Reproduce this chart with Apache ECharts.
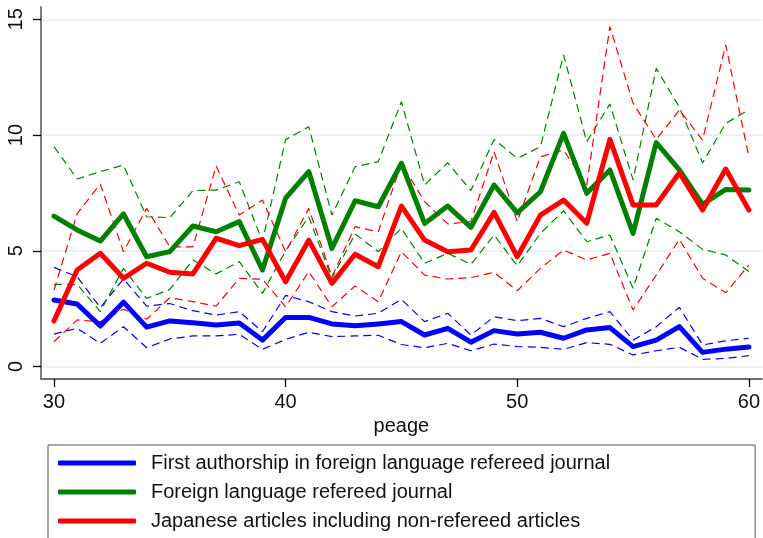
<!DOCTYPE html>
<html>
<head>
<meta charset="utf-8">
<script src="https://cdn.jsdelivr.net/npm/echarts@6/dist/echarts.min.js"></script>
<style>
  html, body { margin: 0; padding: 0; background: #fff; }
  #chart { width: 763px; height: 538px; }
</style>
</head>
<body>
<div id="chart"></div>
<script>
// Age (peage) on the horizontal axis
const ages = [30,31,32,33,34,35,36,37,38,39,40,41,42,43,44,45,46,47,48,49,50,51,52,53,54,55,56,57,58,59,60];

// First authorship in foreign language refereed journal: mean, upper and lower band
const firstMean  = [2.87,2.70,1.75,2.78,1.70,1.97,1.89,1.79,1.88,1.14, 2.12,2.12,1.84,1.76,1.84,1.94,1.36,1.65,1.05,1.55, 1.40,1.48,1.22,1.58,1.68,0.86,1.14,1.72,0.61,0.75,0.84];
const firstUpper = [4.28,3.88,2.55,3.78,2.61,2.72,2.41,2.22,2.37,1.50, 3.07,2.80,2.37,2.18,2.30,2.90,1.94,2.30,1.36,2.15, 1.98,2.08,1.72,2.08,2.37,1.14,1.72,2.56,0.93,1.11,1.22];
const firstLower = [1.40,1.65,1.00,1.72,0.81,1.19,1.32,1.32,1.39,0.74, 1.17,1.48,1.29,1.32,1.35,0.95,0.81,1.00,0.68,0.97, 0.86,0.83,0.74,1.03,0.96,0.50,0.68,0.83,0.31,0.35,0.47];

// Foreign language refereed journal
const foreignMean  = [6.50,5.90,5.42,6.59,4.74,4.96,6.07,5.82,6.26,4.17, 7.27,8.42,5.10,7.16,6.90,8.78,6.18,6.93,6.01,7.84, 6.64,7.55,10.07,7.48,8.49,5.75,9.67,8.49,7.00,7.65,7.62];
const foreignUpper = [9.50,8.10,8.42,8.70,6.47,6.43,7.60,7.62,7.98,5.40, 9.80,10.36,6.54,8.63,8.85,11.44,7.84,8.80,7.60,9.81, 8.99,9.49,13.46,9.71,11.34,8.06,12.88,11.20,8.80,10.50,11.10];
const foreignLower = [3.55,3.55,2.37,4.24,2.94,3.33,4.60,4.00,4.53,3.16, 5.00,6.47,3.80,5.73,4.96,5.97,4.46,4.89,4.41,5.68, 4.35,5.75,6.73,5.39,5.68,3.38,6.40,5.82,5.06,4.82,4.10];

// Japanese articles including non-refereed articles
const japanMean  = [1.97,4.17,4.89,3.81,4.46,4.07,4.00,5.54,5.22,5.49, 3.66,5.46,3.59,4.85,4.31,6.93,5.46,4.96,5.03,6.66, 4.74,6.54,7.19,6.19,9.81,6.98,6.98,8.37,6.76,8.53,6.76];
const japanUpper = [3.30,6.60,7.88,4.96,6.83,5.17,5.17,8.66,6.54,7.19, 4.96,6.83,3.88,6.04,5.82,8.78,7.12,6.16,6.26,9.28, 6.26,9.06,9.35,7.84,14.68,11.37,9.81,11.08,9.78,13.89,9.06];
const japanLower = [1.07,2.01,1.94,2.47,2.04,2.97,2.80,2.61,3.81,3.77, 2.58,4.10,2.58,3.48,2.80,4.96,3.95,3.78,3.84,4.07, 3.27,4.24,5.03,4.60,4.89,2.44,3.95,5.49,3.81,3.19,4.38];

const seriesNames = [
  'First authorship in foreign language refereed journal',
  'Foreign language refereed journal',
  'Japanese articles including non-refereed articles'
];
const xTicks = [30, 40, 50, 60];
const yTicks = [0, 5, 10, 15];

const FONT = '"Liberation Sans", Arial, Helvetica, sans-serif';
const colors = ['#0000ff', '#008000', '#ff0000'];

const pairs = vals => ages.map((a, i) => [a, vals[i]]);

// thin dashed band around each mean
function band(name, vals, color) {
  return {
    name: name, type: 'line', data: pairs(vals), symbol: 'none',
    lineStyle: { color: color, width: 1.2, type: [8, 5] },
    silent: true, z: 2
  };
}
// thick solid mean line
function mean(name, vals, color) {
  return {
    name: name, type: 'line', data: pairs(vals), symbol: 'none',
    lineStyle: { color: color, width: 5, cap: 'round', join: 'round' },
    itemStyle: { color: color },
    z: 3
  };
}

const groups = [
  [firstMean, firstUpper, firstLower],
  [foreignMean, foreignUpper, foreignLower],
  [japanMean, japanUpper, japanLower]
];

const series = [];
groups.forEach((g, k) => {
  series.push(band(seriesNames[k] + ' upper', g[1], colors[k]));
  series.push(band(seriesNames[k] + ' lower', g[2], colors[k]));
});
groups.forEach((g, k) => series.push(mean(seriesNames[k], g[0], colors[k])));

const chart = echarts.init(document.getElementById('chart'), null, { renderer: 'canvas' });
chart.setOption({
  animation: false,
  backgroundColor: '#ffffff',
  color: colors,
  grid: { left: 41, right: 0, top: 7, bottom: 159, containLabel: false },
  xAxis: {
    type: 'value',
    min: 29.44, max: 60.56,
    name: 'peage', nameLocation: 'middle', nameGap: 34,
    nameTextStyle: { fontFamily: FONT, fontSize: 20, color: '#111' },
    axisLine: { show: true, onZero: false, lineStyle: { color: '#6e6e6e', width: 1.8 } },
    axisTick: { show: true, customValues: xTicks, length: 8, lineStyle: { color: '#000', width: 1.3 } },
    axisLabel: { customValues: xTicks, margin: 13, fontFamily: FONT, fontSize: 20, color: '#111' },
    splitLine: { show: false }
  },
  yAxis: {
    type: 'value',
    min: -0.54, max: 15.53,
    axisLine: { show: true, onZero: false, lineStyle: { color: '#6e6e6e', width: 1.8 } },
    axisTick: { show: true, customValues: yTicks, length: 8, lineStyle: { color: '#000', width: 1.3 } },
    axisLabel: { customValues: yTicks, rotate: 90, margin: 15, fontFamily: FONT, fontSize: 20, color: '#111' },
    splitLine: { show: true, lineStyle: { color: '#e9f1f3', width: 2 } }
  },
  legend: {
    data: seriesNames,
    orient: 'vertical',
    left: 48, top: 445,
    height: 160,
    padding: [8, 145, 12, 10],
    itemGap: 9,
    itemWidth: 78, itemHeight: 5,
    icon: 'roundRect',
    borderColor: '#555', borderWidth: 1,
    backgroundColor: '#fff',
    textStyle: { fontFamily: FONT, fontSize: 20, color: '#111', padding: [0, 0, 0, 10] }
  },
  series: series
});
</script>
</body>
</html>
